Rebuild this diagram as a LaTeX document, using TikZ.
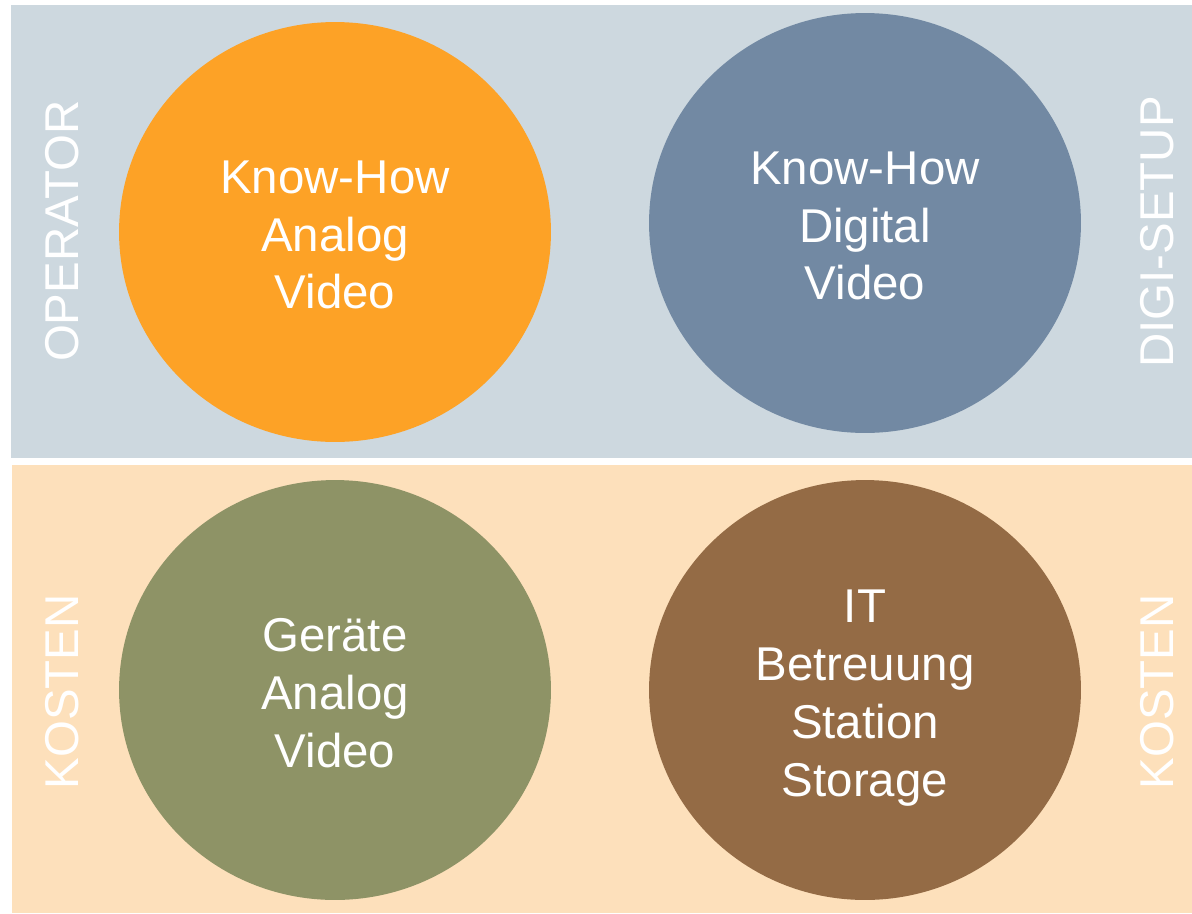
\documentclass[tikz,border=0pt]{standalone}
\usepackage{fontspec}
\setmainfont{Liberation Sans}
\usepackage{tikz}
\usetikzlibrary{shapes.geometric}
\definecolor{panelblue}{HTML}{CDD8DF}
\definecolor{panelpeach}{HTML}{FDE0BB}
\definecolor{analogorange}{HTML}{FDA226}
\definecolor{digiblue}{HTML}{7289A3}
\definecolor{geraetegreen}{HTML}{8E9366}
\definecolor{itbrown}{HTML}{946B45}
\begin{document}
\begin{tikzpicture}[x=0.02cm, y=-0.02cm, font=\fontsize{27}{32.9}\selectfont, blob/.style = {ellipse, minimum width=8.64cm, minimum height=8.4cm, inner sep=0pt}, blobtext/.style = {text=white, align=center, inner sep=0pt}, side/.style = {rotate=90, text=white, inner sep=0pt}]
                \useasboundingbox (0,0) rectangle (1192,913);
                \fill[panelblue] (11,5) rectangle (1192,458);
                \fill[panelpeach] (12,465) rectangle (1192,913);
                \node[blob, fill=analogorange] (analog) at (335,232) {};
                \node[blob, fill=digiblue] (digital) at (865,223) {};
                \node[blob, fill=geraetegreen] (geraete) at (335,690) {};
                \node[blob, fill=itbrown] (it) at (865,690) {};
                \node[blobtext] (analogtext) at (335,235) {Know-How\\Analog\\Video};
                \node[blobtext] (digitaltext) at (865,226) {Know-How\\Digital\\Video};
                \node[blobtext] (geraetetext) at (335,693) {Geräte\\Analog\\Video};
                \node[blobtext] (ittext) at (865,698) {IT\\Betreuung\\Station\\Storage};
                \node[side] (operator) at (62,231) {OPERATOR};
                \node[side] (digisetup) at (1157,232) {DIGI-SETUP};
                \node[side] (kostenl) at (62,692) {KOSTEN};
                \node[side] (kostenr) at (1157,692) {KOSTEN};
            \end{tikzpicture}
\end{document}
